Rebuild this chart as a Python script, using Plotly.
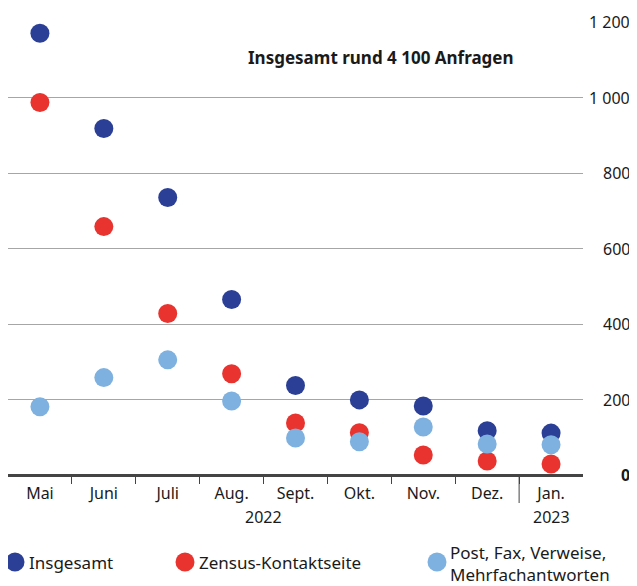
import plotly.graph_objects as go

months = ["Mai", "Juni", "Juli", "Aug.", "Sept.", "Okt.", "Nov.", "Dez.", "Jan."]
years = ["2022", "2023"]
insgesamt = [1170, 918, 735, 465, 237, 199, 183, 117, 111]
zensus = [987, 658, 428, 268, 138, 112, 53, 37, 29]
post = [181, 258, 305, 196, 98, 88, 127, 82, 80]
y_ticks = [0, 200, 400, 600, 800, 1000, 1200]
y_ticktext = ["<b>0</b>", "200", "400", "600", "800", "1 000", "1 200"]
title_text = "<b>Insgesamt rund 4 100 Anfragen</b>"
series_names = ["Insgesamt", "Zensus-Kontaktseite", "Post, Fax, Verweise,<br>Mehrfachantworten"]

c_dark = "#2b3f96"
c_red = "#e8332f"
c_light = "#7eb1df"
colors = [c_dark, c_red, c_light]
FONT = "Noto Sans"

# page has an 8px body margin; figure coordinates are page coordinates minus OFF
OFF = 8
W, H = 629, 578
L, R, T, B = 0, 54, 14, 111
PW, PH = W - L - R, H - T - B


def px_x(p):
    return (p - OFF - L) / PW


def px_y(p):
    return (H - B - (p - OFF)) / PH


x = list(range(len(months)))

fig = go.Figure()
for name, vals, col in zip(series_names, [insgesamt, zensus, post], colors):
    fig.add_trace(go.Scatter(
        x=x, y=vals, mode="markers", name=name,
        marker=dict(color=col, size=19, line=dict(width=0)),
        cliponaxis=False, showlegend=False,
    ))

fig.update_layout(
    width=W, height=H,
    margin=dict(l=L, r=R, t=T, b=B, autoexpand=False),
    paper_bgcolor="white", plot_bgcolor="white",
    font=dict(family=FONT, size=16, color="#1a1a1a"),
    showlegend=False,
    xaxis=dict(
        range=[-0.5, len(months) - 0.5],
        tickvals=x, ticktext=months, ticks="outside", ticklen=4, tickcolor="rgba(0,0,0,0)",
        showgrid=False, showline=False, zeroline=False, fixedrange=True,
        tickfont=dict(size=16),
        minor=dict(tickvals=[i + 0.5 for i in x[:-1]], ticks="outside",
                   ticklen=8, tickcolor="#444", tickwidth=1, showgrid=False),
    ),
    yaxis=dict(
        range=[0, 1200], side="right", tickvals=y_ticks, showticklabels=False,
        showgrid=True, gridcolor="#a6a6a6", gridwidth=1,
        zeroline=True, zerolinecolor="#444", zerolinewidth=2.5,
        ticks="", showline=False, fixedrange=True,
    ),
)

# y tick labels right-aligned at the right edge
for v, t in zip(y_ticks, y_ticktext):
    fig.add_annotation(x=px_x(632), xref="paper", y=v, yref="y", text=t,
                       showarrow=False, xanchor="right", yanchor="middle",
                       font=dict(size=16, family=FONT))

# year labels
fig.add_annotation(x=(len(months) - 2) / 2, xref="x", y=px_y(517), yref="paper",
                   text=years[0], showarrow=False, xanchor="center", yanchor="middle",
                   font=dict(size=16, family=FONT))
fig.add_annotation(x=len(months) - 1, xref="x", y=px_y(517), yref="paper",
                   text=years[1], showarrow=False, xanchor="center", yanchor="middle",
                   font=dict(size=16, family=FONT))
# year separator
fig.add_shape(type="line", x0=len(months) - 1.5, x1=len(months) - 1.5, xref="x",
              y0=0, y1=px_y(503), yref="paper", line=dict(color="#444", width=1))

fig.add_annotation(x=px_x(381), xref="paper", y=px_y(58), yref="paper", text=title_text,
                   showarrow=False, xanchor="center", yanchor="middle",
                   font=dict(size=17, family=FONT))

# manual legend
leg_dot_x = [15, 185, 437]
leg_text_x = [27, 197, 448]
for name, col, dx, tx in zip(series_names, colors, leg_dot_x, leg_text_x):
    fig.add_shape(type="circle", xref="paper", yref="paper",
                  xsizemode="pixel", ysizemode="pixel",
                  xanchor=px_x(dx), yanchor=px_y(562),
                  x0=-9.5, x1=9.5, y0=-9.5, y1=9.5,
                  fillcolor=col, line=dict(width=0))
    multi = "<br>" in name
    fig.add_annotation(x=px_x(tx), xref="paper",
                       y=px_y(539 if multi else 562), yref="paper",
                       text=name, showarrow=False, xanchor="left",
                       yanchor="top" if multi else "middle", align="left",
                       font=dict(size=17, family=FONT))

fig.write_html("out.html")
